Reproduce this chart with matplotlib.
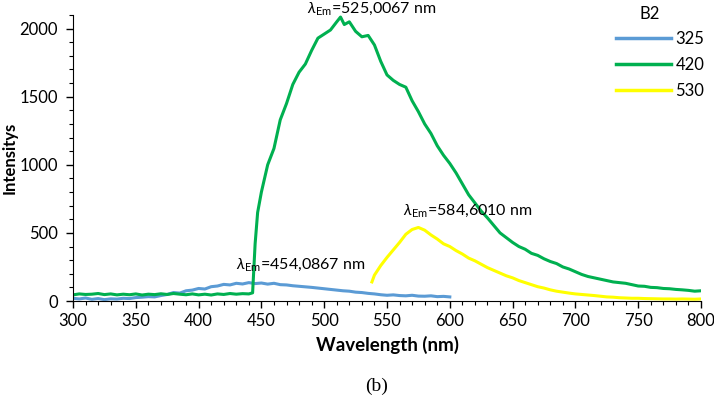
import numpy as np
import matplotlib.pyplot as plt
from matplotlib.ticker import MultipleLocator

plt.rcParams["font.family"] = ["Lato", "DejaVu Sans"]
plt.rcParams["mathtext.fontset"] = "custom"
plt.rcParams["mathtext.rm"] = "Lato"
plt.rcParams["mathtext.it"] = "Lato:italic"

# excitation 325 nm
wl_325 = [300, 305, 310, 315, 320, 325, 330, 335, 340, 345, 350, 355, 360, 365, 370,
          375, 380, 385, 390, 395, 400, 405, 410, 415, 420, 425, 430, 435, 440, 445,
          450, 455, 460, 465, 470, 475, 480, 485, 490, 495, 500, 505, 510, 515, 520,
          525, 530, 535, 540, 545, 550, 555, 560, 565, 570, 575, 580, 585, 590, 595, 600]
int_325 = [20, 15, 22, 12, 18, 10, 16, 14, 20, 18, 25, 28, 32, 30, 40,
           48, 62, 58, 75, 80, 92, 88, 105, 110, 122, 118, 130, 125, 135, 128,
           132, 124, 130, 120, 118, 112, 108, 104, 100, 95, 90, 85, 80, 75, 72,
           65, 62, 56, 52, 46, 42, 45, 40, 38, 42, 36, 35, 38, 32, 34, 30]

# excitation 420 nm
wl_420 = [300, 305, 310, 315, 320, 325, 330, 335, 340, 345, 350, 355, 360, 365, 370,
          375, 380, 385, 390, 395, 400, 405, 410, 415, 420, 425, 430, 435, 440, 443,
          445, 447, 450, 455, 460, 465, 470, 475, 480, 485, 490, 495, 500, 505, 510,
          513, 516, 520, 525, 530, 535, 540, 545, 550, 555, 560, 565, 570, 575, 580,
          585, 590, 595, 600, 605, 610, 615, 620, 625, 630, 635, 640, 645, 650, 655,
          660, 665, 670, 675, 680, 685, 690, 695, 700, 705, 710, 715, 720, 725, 730,
          735, 740, 745, 750, 755, 760, 765, 770, 775, 780, 785, 790, 795, 800]
int_420 = [45, 52, 48, 50, 55, 47, 52, 45, 50, 46, 52, 44, 50, 47, 53,
           48, 55, 50, 46, 52, 45, 50, 44, 52, 48, 55, 50, 54, 52, 60,
           420, 650, 800, 1000, 1120, 1330, 1450, 1590, 1680, 1740, 1840, 1930, 1960, 1990, 2050,
           2085, 2030, 2050, 1980, 1940, 1950, 1880, 1760, 1660, 1620, 1590, 1570, 1470, 1390, 1300,
           1230, 1140, 1070, 1010, 940, 860, 780, 720, 660, 610, 555, 500, 465, 430, 400,
           380, 350, 335, 310, 290, 275, 250, 235, 215, 195, 180, 170, 160, 150, 140,
           135, 130, 120, 110, 108, 100, 98, 92, 90, 85, 82, 78, 72, 75]

# excitation 530 nm
wl_530 = [538, 540, 545, 550, 555, 560, 565, 570, 575, 580, 585, 590, 595, 600, 605,
          610, 615, 620, 625, 630, 635, 640, 645, 650, 655, 660, 665, 670, 675, 680,
          685, 690, 695, 700, 705, 710, 715, 720, 725, 730, 735, 740, 745, 750, 755,
          760, 765, 770, 775, 780, 785, 790, 795, 800]
int_530 = [140, 190, 260, 320, 375, 430, 490, 525, 540, 520, 485, 455, 420, 400, 370,
           345, 315, 295, 270, 245, 225, 205, 185, 170, 150, 135, 120, 105, 95, 82,
           72, 65, 58, 52, 48, 44, 40, 35, 30, 28, 24, 22, 20, 20, 18,
           17, 16, 15, 15, 14, 15, 14, 13, 15]

fig = plt.figure(figsize=(7.14, 3.98), dpi=100)
ax = fig.add_axes([73/714, 1 - 301/398, 628/714, 286/398])

lw = 2.2
ax.plot(wl_325, int_325, color="#5B9BD5", lw=lw, label="325")
ax.plot(wl_420, int_420, color="#00B050", lw=lw, label="420")
ax.plot(wl_530, int_530, color="#FFFF00", lw=lw, label="530")

ax.set_xlim(300, 800)
ax.set_ylim(0, 2100)
ax.xaxis.set_major_locator(MultipleLocator(50))
ax.xaxis.set_minor_locator(MultipleLocator(10))
ax.yaxis.set_major_locator(MultipleLocator(500))
ax.yaxis.set_minor_locator(MultipleLocator(100))
ax.tick_params(which="major", length=5, width=1, labelsize=12)
ax.tick_params(axis="y", which="major", pad=6)
ax.tick_params(which="minor", length=3, width=0.8)
for s in ["top", "right"]:
    ax.spines[s].set_visible(False)

ax.set_xlabel("Wavelength (nm)", fontsize=13.5, fontweight="bold", labelpad=5)
ax.set_ylabel("Intensitys", fontsize=12, fontweight="bold")
ax.yaxis.set_label_coords(-0.088, 0.5)

ax.text(486, 2205, r"$\lambda_{\mathrm{Em}}$=525,0067 nm", fontsize=11.5, va="top", clip_on=False)
ax.text(563, 662, r"$\lambda_{\mathrm{Em}}$=584,6010 nm", fontsize=11.5, va="center")
ax.text(430, 265, r"$\lambda_{\mathrm{Em}}$=454,0867 nm", fontsize=11.5, va="center")

leg = ax.legend(loc="upper left", bbox_to_anchor=(0.841, 0.998),
                frameon=False, fontsize=12,
                handlelength=3.3, handletextpad=0.25, labelspacing=0.6)
for line in leg.get_lines():
    line.set_linewidth(2.5)
fig.text(650/714, 1 - 14/398, "B2", fontsize=12, ha="center", va="center")

fig.text(377/714, 1 - 386/398, "(b)", fontsize=14, ha="center", va="center",
         family="Liberation Serif")

fig.savefig("out.png", dpi=100)
